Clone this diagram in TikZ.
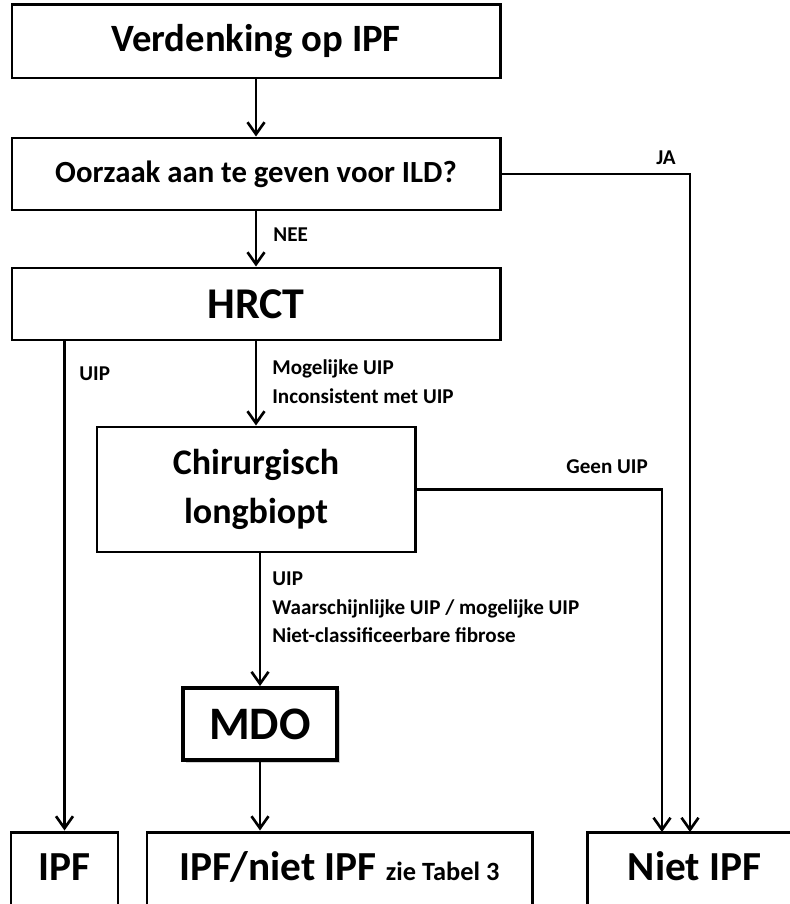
\documentclass[tikz,border=0pt]{standalone}
\usepackage{fontspec}
\setmainfont{Carlito}
\usetikzlibrary{positioning,calc,arrows.meta,shadows}

\begin{document}
\begin{tikzpicture}[
    box/.style={draw, line width=1.7pt, fill=white, align=center, inner sep=0pt, font=\bfseries},
    endbox/.style={box, minimum height=1.6cm, text height=0.6cm, text depth=0.28cm, font=\fontsize{23.5}{28}\selectfont\bfseries},
    flow/.style={draw, line width=1.5pt, -{Straight Barb[length=2.4mm, width=3.4mm, line width=1.5pt]}},
    conn/.style={draw, line width=1.5pt},
    cond/.style={anchor=west, align=left, inner sep=0pt, font=\fontsize{12}{16.2}\selectfont\bfseries}
]
\useasboundingbox (0,0) rectangle (15.8,-18.08);

% Define node positions
\node[box, minimum width=9.76cm, minimum height=1.46cm, font=\fontsize{22}{26}\selectfont\bfseries] (start) at (5.12,-0.83) {Verdenking op IPF};
\node[box, minimum width=9.76cm, minimum height=1.44cm, font=\fontsize{17.5}{21}\selectfont\bfseries] (cause) at (5.12,-3.48) {Oorzaak aan te geven voor ILD?};
\node[box, minimum width=9.76cm, minimum height=1.44cm, font=\fontsize{25}{30}\selectfont\bfseries] (hrct) at (5.12,-6.08) {HRCT};
\node[box, minimum width=6.36cm, minimum height=2.5cm, font=\fontsize{20.5}{28}\selectfont\bfseries] (biopt) at (5.12,-9.79) {Chirurgisch\\longbiopt};
\node[box, line width=2.2pt, minimum width=3.08cm, minimum height=1.44cm, font=\fontsize{26.5}{30}\selectfont\bfseries,
      drop shadow={shadow xshift=1.5pt, shadow yshift=-1.5pt, opacity=0.35}] (mdo) at (5.2,-14.48) {MDO};

% Bottom outcomes
\node[endbox, minimum width=2.14cm] (ipf) at (1.29,-17.44) {IPF};
\node[endbox, minimum width=7.7cm] (mixed) at (6.79,-17.44) {IPF/niet IPF {\fontsize{15}{18}\selectfont zie Tabel 3}};
\node[endbox, minimum width=4.3cm] (noipf) at (13.89,-17.44) {Niet IPF};

% Free ends of the side branches
\coordinate (jaend) at (13.8,-16.64);
\coordinate (geenend) at (13.24,-16.64);

% Draw connectors
\draw[flow] (start) -- (cause);
\draw[flow] (cause) -- (hrct);
\draw[flow] (hrct) -- (biopt);
\draw[flow] (mdo.north |- biopt.south) -- (mdo.north);
\draw[flow] (mdo.south) -- (mdo.south |- mixed.north);
\draw[flow] (ipf.north |- hrct.south) -- (ipf.north);
\draw[flow] (cause.east) -| (jaend);
\draw[flow] (biopt.east) -| (geenend);

% Labels on the branches
\node[cond] (nee) at (5.46,-4.70) {NEE};
\node[cond] (ja) at (13.12,-3.16) {JA};
\node[cond] (uip) at (1.58,-7.48) {UIP};
\node[cond] (hrctres) at (5.44,-7.63) {Mogelijke UIP\\Inconsistent met UIP};
\node[cond] (geen) at (11.32,-9.34) {Geen UIP};
\node[cond] (bioptres) at (5.44,-12.15) {UIP\\Waarschijnlijke UIP / mogelijke UIP\\Niet-classificeerbare fibrose};

\end{tikzpicture}
\end{document}
